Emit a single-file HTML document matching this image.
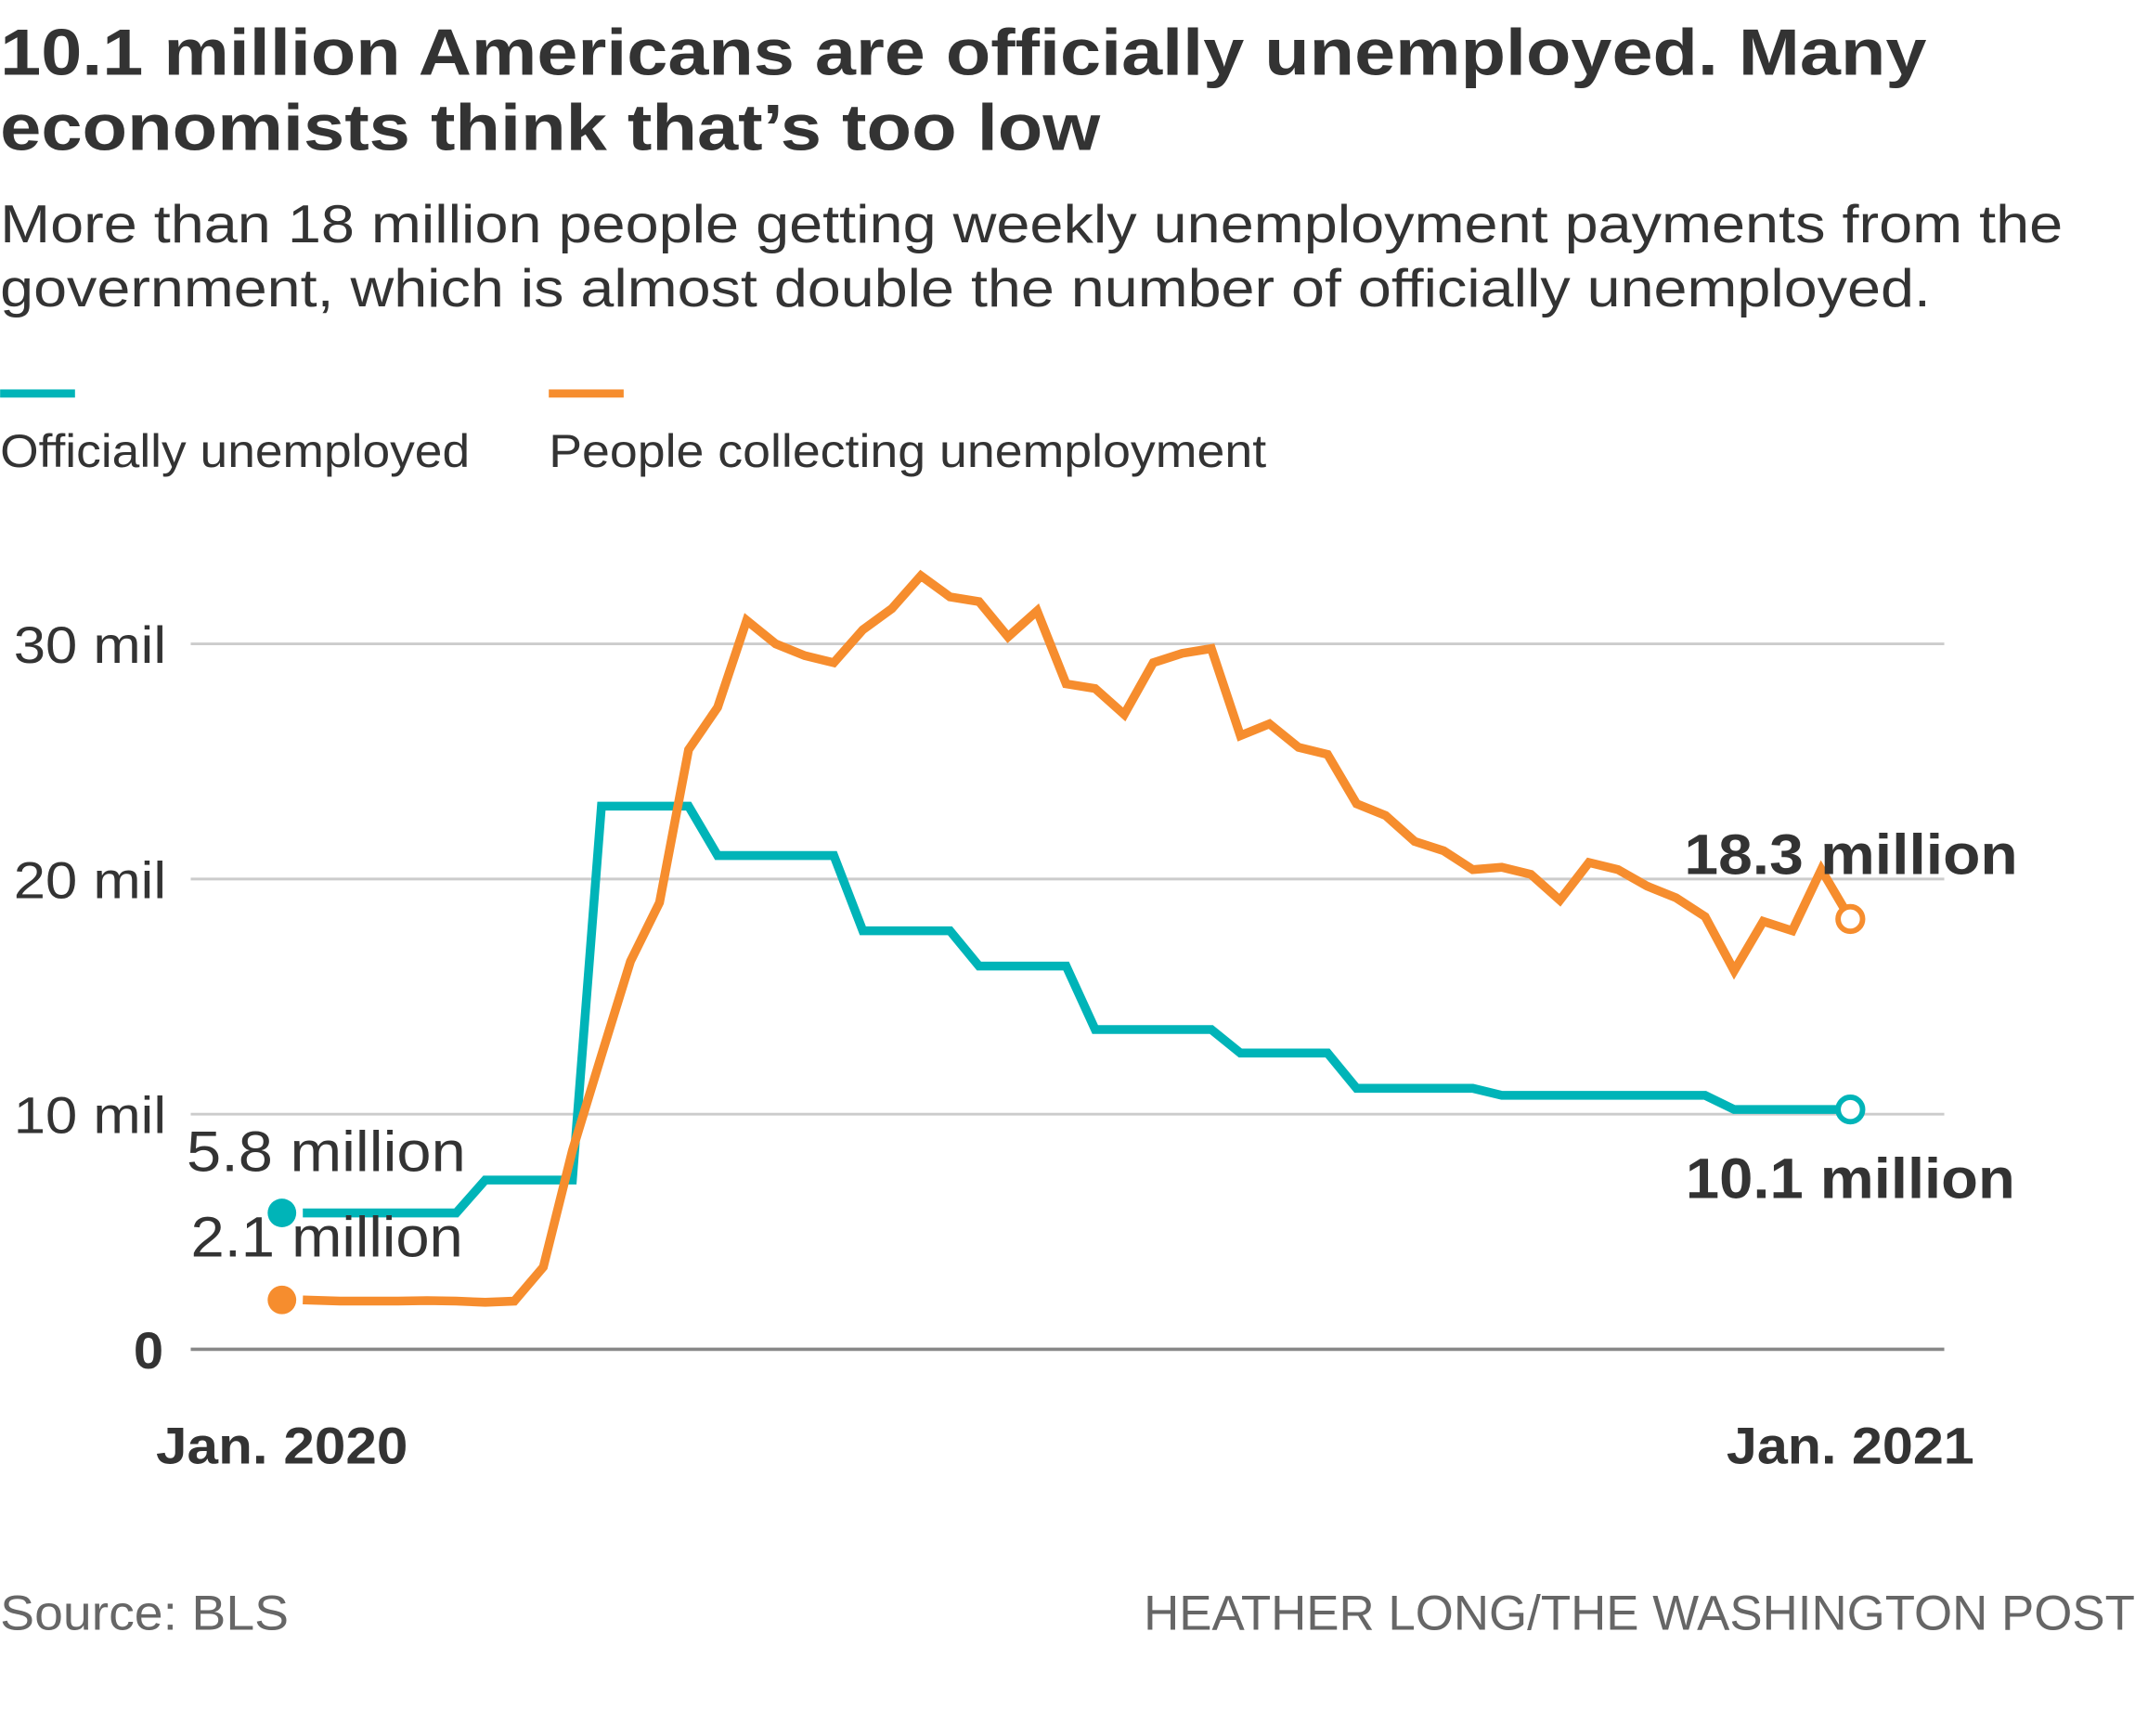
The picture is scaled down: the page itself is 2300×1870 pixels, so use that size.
<!DOCTYPE html>
<html><head><meta charset="utf-8"><style>
html,body{margin:0;padding:0;background:#fff;}
svg{display:block;}
text{font-family:"Liberation Sans",sans-serif;fill:#333;}
</style></head><body>
<svg id="chart" width="2300" height="1870" viewBox="0 0 1568 1275" xmlns="http://www.w3.org/2000/svg">
<text x="0" y="55" font-size="48" font-weight="bold" textLength="1415" lengthAdjust="spacingAndGlyphs">10.1 million Americans are officially unemployed. Many</text>
<text x="0" y="110" font-size="48" font-weight="bold" textLength="808" lengthAdjust="spacingAndGlyphs">economists think that’s too low</text>
<text x="0" y="178" font-size="39" textLength="1515" lengthAdjust="spacingAndGlyphs">More than 18 million people getting weekly unemployment payments from the</text>
<text x="0" y="225" font-size="39" textLength="1418" lengthAdjust="spacingAndGlyphs">government, which is almost double the number of officially unemployed.</text>
<g>
<rect x="0" y="286" width="55" height="6" fill="#00b4b8"/>
<text x="0" y="343" font-size="34" textLength="345" lengthAdjust="spacingAndGlyphs">Officially unemployed</text>
<rect x="403" y="286" width="55" height="6" fill="#f68d2e"/>
<text x="403" y="343" font-size="34" textLength="527" lengthAdjust="spacingAndGlyphs">People collecting unemployment</text>
</g>
<g id="grid"></g>
<g id="marks"></g>
<text x="207" y="1075" font-size="38" font-weight="bold" text-anchor="middle" textLength="185" lengthAdjust="spacingAndGlyphs">Jan. 2020</text>
<text x="1359" y="1075" font-size="38" font-weight="bold" text-anchor="middle" textLength="182" lengthAdjust="spacingAndGlyphs">Jan. 2021</text>
<text x="0" y="1197" font-size="36" style="fill:#666" textLength="212" lengthAdjust="spacingAndGlyphs">Source: BLS</text>
<text x="1568" y="1197" font-size="36" text-anchor="end" style="fill:#666" textLength="728" lengthAdjust="spacingAndGlyphs">HEATHER LONG/THE WASHINGTON POST</text>
</svg>
<script>
const collecting = [2.1,2.1,2.05,2.05,2.05,2.07,2.05,2.0,2.05,3.5,8.45,12.5,16.5,19.0,25.5,27.3,31.0,30.0,29.5,29.2,30.6,31.5,32.9,32.0,31.8,30.3,31.4,28.3,28.1,27.0,29.2,29.6,29.8,26.1,26.6,25.6,25.3,23.2,22.7,21.6,21.2,20.4,20.5,20.2,19.1,20.7,20.4,19.7,19.2,18.4,16.1,18.2,17.8,20.4,18.3];
const official = [5.8,5.8,5.8,5.8,5.8,5.8,5.8,7.2,7.2,7.2,7.2,23.1,23.1,23.1,23.1,21.0,21.0,21.0,21.0,21.0,17.8,17.8,17.8,17.8,16.3,16.3,16.3,16.3,13.6,13.6,13.6,13.6,13.6,12.6,12.6,12.6,12.6,11.1,11.1,11.1,11.1,11.1,10.8,10.8,10.8,10.8,10.8,10.8,10.8,10.8,10.2,10.2,10.2,10.2,10.2];
const yTicks = [0,10,20,30];
const yTickLabels = ["0","10 mil","20 mil","30 mil"];

const NS = "http://www.w3.org/2000/svg";
const x = i => 207 + i * (1359 - 207) / 54;
const y = v => 991 - v * 17.27;
function mk(tag, attrs){const e=document.createElementNS(NS,tag);for(const k in attrs)e.setAttribute(k,attrs[k]);return e;}
const grid = document.getElementById('grid');
yTicks.forEach((t,i)=>{
  const l = mk('line',{x1:140,x2:1428,y1:y(t),y2:y(t),stroke:t===0?'#888':'#ccc','stroke-width':t===0?2.5:2});
  
  
  grid.appendChild(l);
  const tx = mk('text',{x:122,y:y(t)+14,'font-size':38,'text-anchor':'end',textLength:t===0?22:112,lengthAdjust:'spacingAndGlyphs'});
  if(t===0){tx.setAttribute('font-weight','bold');tx.setAttribute('x',120);}
  tx.textContent = yTickLabels[i];
  
  
  grid.appendChild(tx);
});
const marks = document.getElementById('marks');
function series(vals, color, name){
  let d='';
  for(let i=1;i<vals.length;i++){
    const xx = i===1 ? x(1)-6 : x(i);
    d += (i===1?'M':'L')+xx+','+y(vals[i]);
  }
  const p = mk('path',{d:d,fill:'none',stroke:color,'stroke-width':6.5,'stroke-linejoin':'miter'});
  
  
  marks.appendChild(p);
  const s = mk('circle',{cx:x(0),cy:y(vals[0]),r:10.5,fill:color});
  
  
  marks.appendChild(s);
  const n=vals.length-1;
  const e = mk('circle',{cx:x(n),cy:y(vals[n]),r:9,fill:'#fff',stroke:color,'stroke-width':4});
  
  
  marks.appendChild(e);
}
series(official,'#00b4b8','official');
series(collecting,'#f68d2e','collecting');
const labels = [
  ['5.8 million',137,860,false,205,'label-official-start'],
  ['2.1 million',140,923,false,200,'label-collecting-start'],
  ['18.3 million',1237,642,true,245,'label-collecting-end'],
  ['10.1 million',1238,880,true,242,'label-official-end']
];
labels.forEach(a=>{
  const t = mk('text',{x:a[1],y:a[2],'font-size':42,textLength:a[4],lengthAdjust:'spacingAndGlyphs'});
  if(a[3]) t.setAttribute('font-weight','bold');
  t.textContent=a[0];
  
  
  marks.appendChild(t);
});
</script>
</body></html>
